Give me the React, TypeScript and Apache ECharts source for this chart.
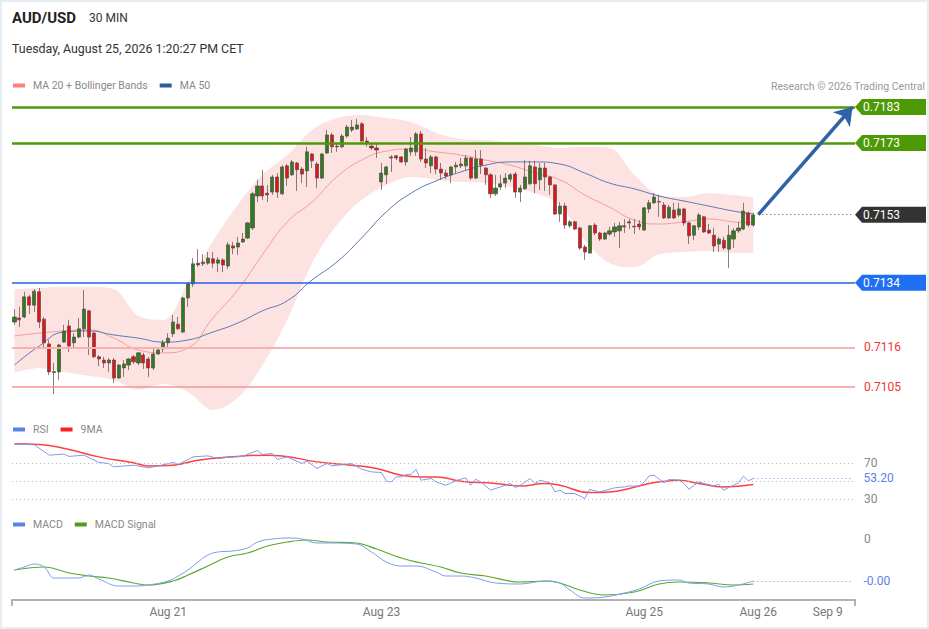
import React, { useEffect, useRef } from "react";
import * as echarts from "echarts";

// ---------- data ----------
const SLOTS = 170; // category slots on the time axis (candles + future space)

// [open, close, low, high]
const candles: number[][] = [
  [0.71231, 0.71245, 0.71223, 0.71267], [0.71242, 0.71237, 0.71217, 0.71273], [0.71245, 0.71301, 0.71242, 0.71315],
  [0.71301, 0.71278, 0.71253, 0.71306], [0.71278, 0.71317, 0.71259, 0.71323], [0.71315, 0.71231, 0.71214, 0.71326],
  [0.71239, 0.71173, 0.71159, 0.71245], [0.7117, 0.71092, 0.71083, 0.71181], [0.7109, 0.71093, 0.7103, 0.71117],
  [0.71092, 0.71167, 0.71069, 0.7117], [0.71175, 0.71206, 0.71173, 0.71223], [0.7122, 0.71164, 0.71147, 0.71237],
  [0.71173, 0.71189, 0.71161, 0.712], [0.71189, 0.71212, 0.71186, 0.71242], [0.71212, 0.71267, 0.71189, 0.7132],
  [0.71262, 0.71189, 0.71139, 0.71264], [0.712, 0.71134, 0.71131, 0.71203], [0.71134, 0.71128, 0.71108, 0.71139],
  [0.71125, 0.71117, 0.71103, 0.71134], [0.71117, 0.71125, 0.71092, 0.71131], [0.71125, 0.71075, 0.71061, 0.71131],
  [0.71075, 0.71111, 0.71072, 0.71114], [0.71103, 0.71114, 0.71078, 0.71125], [0.71111, 0.71128, 0.71097, 0.71131],
  [0.71134, 0.7112, 0.71114, 0.71139], [0.71117, 0.71145, 0.71111, 0.71147], [0.71139, 0.71117, 0.711, 0.71145],
  [0.71128, 0.71103, 0.71078, 0.71134], [0.71103, 0.71142, 0.71097, 0.71159], [0.71142, 0.71153, 0.71139, 0.71161],
  [0.71156, 0.71173, 0.71147, 0.71181], [0.71173, 0.71186, 0.71159, 0.712], [0.71198, 0.71231, 0.71189, 0.71251],
  [0.71225, 0.71212, 0.71209, 0.71245], [0.71203, 0.71298, 0.712, 0.71301], [0.71298, 0.71337, 0.71273, 0.71342],
  [0.71337, 0.71393, 0.71329, 0.71409], [0.71395, 0.7139, 0.71384, 0.71434], [0.71393, 0.71398, 0.71387, 0.7142],
  [0.71395, 0.71409, 0.7139, 0.71426], [0.71407, 0.71395, 0.71381, 0.71426], [0.71395, 0.71404, 0.7137, 0.71412],
  [0.71404, 0.7139, 0.7137, 0.71409], [0.71387, 0.71446, 0.71379, 0.71454], [0.71443, 0.71437, 0.7142, 0.71454],
  [0.7144, 0.71451, 0.71418, 0.71468], [0.71454, 0.71462, 0.71451, 0.71479], [0.71465, 0.71507, 0.71462, 0.7151],
  [0.71493, 0.71588, 0.71487, 0.71593], [0.71582, 0.7161, 0.71565, 0.71627], [0.7161, 0.71582, 0.71571, 0.71655],
  [0.7159, 0.71585, 0.71565, 0.71613], [0.71593, 0.71635, 0.71585, 0.71641], [0.71635, 0.71593, 0.71577, 0.71646],
  [0.71588, 0.71663, 0.71585, 0.71668], [0.71666, 0.71632, 0.7161, 0.71671], [0.71641, 0.71677, 0.71638, 0.71682],
  [0.71674, 0.71655, 0.71596, 0.71677], [0.71657, 0.71643, 0.71618, 0.71663], [0.71652, 0.71705, 0.71607, 0.71719],
  [0.71699, 0.7168, 0.7166, 0.71702], [0.71671, 0.71632, 0.71604, 0.71677], [0.71632, 0.71699, 0.71629, 0.71702],
  [0.71702, 0.71752, 0.71699, 0.71766], [0.71752, 0.71719, 0.71702, 0.71758], [0.71721, 0.71719, 0.71705, 0.7173],
  [0.71719, 0.71749, 0.71716, 0.71755], [0.71749, 0.71774, 0.71744, 0.7178], [0.71766, 0.71774, 0.7176, 0.71794],
  [0.71769, 0.7178, 0.71766, 0.71797], [0.71783, 0.71735, 0.71733, 0.71788], [0.71735, 0.7173, 0.71719, 0.71746],
  [0.71721, 0.71716, 0.7171, 0.71727], [0.71716, 0.7171, 0.71688, 0.71727], [0.71621, 0.71646, 0.71599, 0.71674],
  [0.71641, 0.71663, 0.71616, 0.71666], [0.71688, 0.71691, 0.71649, 0.71696], [0.71694, 0.71688, 0.71682, 0.71696],
  [0.71691, 0.71677, 0.71674, 0.71693], [0.71677, 0.71713, 0.71666, 0.71716], [0.71705, 0.71716, 0.71694, 0.71746],
  [0.71705, 0.71755, 0.71694, 0.7176], [0.71755, 0.71685, 0.71677, 0.71763], [0.71685, 0.71674, 0.7166, 0.71716],
  [0.71666, 0.71691, 0.71646, 0.71696], [0.71691, 0.71657, 0.71643, 0.71694], [0.71657, 0.71646, 0.71627, 0.71674],
  [0.71646, 0.71638, 0.71629, 0.71655], [0.71641, 0.71663, 0.71618, 0.71665], [0.71663, 0.71668, 0.71646, 0.71677],
  [0.71666, 0.71671, 0.7166, 0.71688], [0.71666, 0.71688, 0.71655, 0.71696], [0.71688, 0.71632, 0.71627, 0.71691],
  [0.71632, 0.71685, 0.71629, 0.7171], [0.71685, 0.71668, 0.71643, 0.7171], [0.7166, 0.71641, 0.71613, 0.71663],
  [0.71641, 0.71588, 0.71577, 0.71646], [0.71588, 0.71604, 0.71582, 0.71641], [0.71607, 0.71616, 0.71599, 0.71641],
  [0.71618, 0.71632, 0.71604, 0.71646], [0.71629, 0.71641, 0.71621, 0.71646], [0.71643, 0.71593, 0.71577, 0.71649],
  [0.71593, 0.71604, 0.71565, 0.71613], [0.71602, 0.71635, 0.71599, 0.71682], [0.71616, 0.71666, 0.71613, 0.7168],
  [0.71663, 0.71616, 0.7159, 0.7168], [0.71627, 0.7166, 0.71599, 0.71674], [0.7166, 0.71635, 0.71596, 0.71674],
  [0.71635, 0.71613, 0.71585, 0.71638], [0.71613, 0.71532, 0.71529, 0.71615], [0.71532, 0.71554, 0.7151, 0.71565],
  [0.71554, 0.71501, 0.7149, 0.71563], [0.71499, 0.7151, 0.71493, 0.71515], [0.7151, 0.7149, 0.71487, 0.71512],
  [0.71493, 0.71437, 0.71432, 0.71496], [0.7144, 0.71426, 0.71404, 0.71446], [0.71423, 0.71499, 0.71423, 0.71501],
  [0.71501, 0.71479, 0.71473, 0.71507], [0.71479, 0.71462, 0.71457, 0.71482], [0.71462, 0.71479, 0.71459, 0.71482],
  [0.71476, 0.71485, 0.71471, 0.71496], [0.71482, 0.71496, 0.71468, 0.71507], [0.71485, 0.71499, 0.71437, 0.7151],
  [0.71496, 0.71499, 0.71479, 0.71518], [0.71507, 0.7151, 0.7149, 0.71518], [0.71496, 0.71498, 0.71476, 0.71518],
  [0.71504, 0.71496, 0.71487, 0.71515], [0.71487, 0.71549, 0.71485, 0.71551], [0.71546, 0.71563, 0.71535, 0.71571],
  [0.71563, 0.71579, 0.7156, 0.7159], [0.71565, 0.71567, 0.71524, 0.71585], [0.71557, 0.71521, 0.71518, 0.71565],
  [0.71521, 0.71551, 0.71518, 0.71557], [0.71543, 0.71521, 0.71518, 0.71563], [0.71529, 0.71546, 0.71524, 0.71563],
  [0.71546, 0.71507, 0.71499, 0.71549], [0.71507, 0.71471, 0.71448, 0.7151], [0.71473, 0.71499, 0.71459, 0.71501],
  [0.71496, 0.71529, 0.71487, 0.71535], [0.71524, 0.71482, 0.71479, 0.71526], [0.71487, 0.71479, 0.71476, 0.71504],
  [0.71473, 0.71443, 0.71426, 0.71493], [0.71448, 0.71462, 0.71426, 0.71468], [0.71459, 0.71437, 0.71432, 0.71468],
  [0.71434, 0.71473, 0.71381, 0.71501], [0.71462, 0.71485, 0.71437, 0.71493], [0.71485, 0.71493, 0.71479, 0.7151],
  [0.7149, 0.7154, 0.71487, 0.71563], [0.71535, 0.71501, 0.71496, 0.71538], [0.71501, 0.71529, 0.71496, 0.71535],
];

// indicator sample slots (every 5th candle)
const bandSlots = [0, 5, 10, 15, 20, 25, 30, 35, 40, 45, 50, 55, 60, 65, 70, 75, 80, 85, 90, 95, 100, 105, 110, 115, 120, 125, 130, 135, 140, 145, 149];
const bbUpper = [0.71323, 0.71326, 0.71329, 0.71329, 0.71323, 0.71248, 0.71237, 0.71342, 0.71457, 0.71557, 0.71641, 0.71696, 0.71766, 0.71799, 0.71808, 0.71799, 0.71788, 0.71758, 0.71741, 0.71738, 0.7173, 0.71724, 0.71716, 0.71719, 0.71716, 0.71641, 0.71585, 0.71579, 0.7159, 0.71585, 0.71579];
const bbLower = [0.71089, 0.71103, 0.71092, 0.71081, 0.71069, 0.71042, 0.71058, 0.71036, 0.70986, 0.71019, 0.71111, 0.71237, 0.71395, 0.71501, 0.71571, 0.71613, 0.71635, 0.71627, 0.71621, 0.71618, 0.71607, 0.7159, 0.71557, 0.71459, 0.71395, 0.71384, 0.7142, 0.71426, 0.71429, 0.71423, 0.71423];
const ma20 = [0.71192, 0.712, 0.71206, 0.71209, 0.71186, 0.71153, 0.71145, 0.71159, 0.71242, 0.7132, 0.71418, 0.7151, 0.71565, 0.71635, 0.71682, 0.71707, 0.71713, 0.71705, 0.71696, 0.71682, 0.71668, 0.71646, 0.71627, 0.71585, 0.71551, 0.71515, 0.71504, 0.7151, 0.71518, 0.7151, 0.71507];
const ma50 = [0.71111, 0.71164, 0.71203, 0.71206, 0.71195, 0.71186, 0.71175, 0.71181, 0.71203, 0.71228, 0.71262, 0.7129, 0.71348, 0.71398, 0.71465, 0.71538, 0.7159, 0.71624, 0.71649, 0.71668, 0.71677, 0.71677, 0.71671, 0.71646, 0.71618, 0.71602, 0.71582, 0.71568, 0.71554, 0.7154, 0.71532];

// [slot, value]
const rsi: number[][] = [[0, 91.5], [4, 90.7], [7, 79.1], [10, 80.3], [11, 77.7], [14, 79.1], [17, 71.0], [19, 69.8], [20, 66.0], [24, 67.9], [27, 64.9], [29, 67.1], [32, 71.0], [33, 68.7], [35, 74.3], [36, 77.2], [39, 78.3], [41, 75.4], [44, 77.2], [46, 77.7], [49, 84.4], [50, 79.9], [52, 81.0], [53, 74.3], [55, 77.2], [56, 74.6], [58, 69.8], [59, 72.4], [61, 64.2], [63, 69.8], [64, 67.1], [68, 69.8], [70, 63.4], [72, 60.4], [74, 59.7], [75, 50.0], [76, 49.2], [77, 54.8], [78, 54.8], [79, 57.5], [80, 57.8], [81, 63.1], [82, 51.1], [84, 53.0], [85, 49.2], [87, 45.5], [89, 50.3], [90, 52.2], [91, 53.7], [92, 45.5], [93, 52.2], [94, 49.2], [96, 39.9], [98, 43.6], [100, 47.4], [101, 42.5], [102, 45.5], [104, 53.0], [105, 47.4], [106, 51.1], [108, 48.1], [109, 38.0], [110, 39.9], [111, 36.2], [113, 36.2], [115, 30.6], [116, 40.7], [118, 38.0], [121, 42.5], [123, 43.6], [124, 44.7], [126, 44.4], [127, 49.2], [128, 55.9], [129, 56.7], [131, 48.1], [132, 51.9], [134, 51.1], [135, 47.4], [136, 41.0], [138, 49.2], [139, 47.4], [141, 44.7], [142, 46.6], [143, 39.9], [145, 45.5], [146, 48.1], [147, 55.6], [148, 50.3], [149, 53.2]];
const rsiMa: number[][] = [[0, 91.8], [5, 91.1], [11, 85.5], [17, 77.2], [24, 70.5], [27, 67.1], [32, 67.9], [37, 73.5], [44, 77.2], [51, 79.1], [54, 78.3], [61, 71.6], [68, 67.9], [73, 64.2], [78, 56.7], [82, 54.8], [85, 54.8], [90, 50.0], [97, 47.4], [102, 44.7], [107, 47.4], [110, 45.5], [116, 37.3], [120, 38.0], [124, 41.8], [128, 47.4], [132, 50.3], [134, 51.1], [138, 47.4], [143, 43.6], [149, 46.3]];
const macd: number[][] = [[0, -0.00031], [2, -0.00028], [4, -0.00025], [6, -0.00028], [8, -0.00039], [11, -0.00039], [13, -0.00039], [15, -0.00036], [17, -0.0004], [21, -0.00047], [24, -0.00047], [27, -0.00046], [31, -0.00042], [33, -0.00037], [35, -0.00031], [37, -0.00023], [39, -0.00016], [41, -0.00013], [44, -0.00012], [47, -0.00009], [49, -0.00003], [52, 0], [56, 0.00001], [58, 0], [61, -0.00004], [64, -0.00004], [69, -0.00005], [72, -0.00013], [75, -0.00023], [78, -0.00027], [81, -0.00027], [85, -0.00033], [87, -0.00037], [90, -0.00037], [93, -0.00039], [97, -0.00044], [102, -0.00045], [107, -0.00042], [110, -0.00044], [112, -0.00051], [115, -0.00059], [119, -0.00058], [123, -0.00054], [126, -0.0005], [130, -0.00042], [134, -0.00041], [136, -0.00044], [140, -0.00045], [143, -0.00048], [146, -0.00046], [149, -0.00042]];
const macdSignal: number[][] = [[0, -0.00031], [6, -0.00028], [11, -0.00034], [15, -0.00037], [19, -0.00039], [24, -0.00044], [27, -0.00046], [32, -0.00042], [35, -0.00036], [39, -0.00027], [43, -0.00018], [47, -0.00014], [51, -0.00007], [55, -0.00003], [59, -0.00001], [63, -0.00003], [69, -0.00004], [73, -0.0001], [78, -0.00019], [82, -0.00024], [86, -0.00028], [90, -0.00034], [95, -0.00037], [102, -0.00043], [107, -0.00042], [110, -0.00044], [114, -0.00051], [119, -0.00056], [125, -0.00053], [130, -0.00045], [134, -0.00043], [140, -0.00044], [145, -0.00046], [149, -0.00045]];

const resistances = [0.7183, 0.7173];
const pivot = 0.7134;
const supports = [0.7116, 0.7105];
const lastPrice = 0.7153;
const targetPrice = 0.7183;
const rsiGuides = [70, 50, 30];
const rsiTickValues = [30, 70];

const tickLabels = ["Aug 21", "Aug 23", "Aug 25", "Aug 26", "Sep 9"];
const tickSlots = [31, 74, 127, 150, 164];

const FONT = "Roboto, 'Liberation Sans', Arial, sans-serif";

export default function App() {
  const ref = useRef<HTMLDivElement>(null);

  useEffect(() => {
    const el = ref.current;
    if (!el) return;
    const chart = echarts.init(el, undefined, { renderer: "svg" });

    const cats = Array.from({ length: SLOTS }, (_, i) => String(i));
    const labelMap: Record<number, string> = {};
    tickSlots.forEach((s, k) => (labelMap[s] = tickLabels[k]));
    const pair = (slots: number[], vals: number[]) => slots.map((s, k) => [s, vals[k]]);
    const bandWidth = bbUpper.map((u, k) => +(u - bbLower[k]).toFixed(6));
    const lastSlot = SLOTS - 1;
    const nextSlot = candles.length;
    const lastRsi = rsi[rsi.length - 1];
    const lastMacd = macd[macd.length - 1];

    const gridPos = { left: 12, right: 74 };
    const hiddenX = (gi: number) => ({
      type: "category", gridIndex: gi, data: cats, boundaryGap: true, show: false,
    });

    const tagSymbol = "path://M0,8 L7,0 L71,0 L71,16 L7,16 Z";
    const tag = (price: number, color: string) => ({
      name: price.toFixed(4),
      coord: [lastSlot, price],
      itemStyle: { color },
    });
    const legendText = { color: "#888", fontSize: 10.5, fontFamily: FONT, padding: [0, 0, 0, 3] };

    const option: any = {
      animation: false,
      backgroundColor: "#ffffff",
      textStyle: { fontFamily: FONT },
      grid: [
        { ...gridPos, top: 95, height: 320 },
        { ...gridPos, top: 436.5, height: 80.4 },
        { ...gridPos, top: 530, height: 70 },
      ],
      xAxis: [
        hiddenX(0),
        hiddenX(1),
        {
          type: "category", gridIndex: 2, data: cats, boundaryGap: true,
          axisLine: { show: true, onZero: false, lineStyle: { color: "#b3b3b3", width: 2 } },
          axisTick: { show: true, interval: (i: number) => i === 0, length: 6, lineStyle: { color: "#b3b3b3", width: 2 } },
          axisLabel: {
            interval: (i: number) => labelMap[i] !== undefined,
            formatter: (_v: string, i: number) => labelMap[i] ?? "",
            color: "#777", fontSize: 12, margin: 6, fontFamily: FONT,
          },
          splitLine: { show: false },
        },
      ],
      yAxis: [
        { type: "value", gridIndex: 0, min: 0.709719, max: 0.718634, show: false, splitLine: { show: false } },
        {
          type: "value", gridIndex: 1, min: 10, max: 100, position: "right",
          axisLine: { show: false }, axisTick: { show: false }, splitLine: { show: false },
          axisLabel: { customValues: rsiTickValues, color: "#888", fontSize: 12, margin: 9, fontFamily: FONT },
        },
        {
          type: "value", gridIndex: 2, min: -0.00061, max: 0.00009, position: "right",
          axisLine: { show: false }, axisTick: { show: false }, splitLine: { show: false },
          axisLabel: { customValues: [0], formatter: (v: number) => String(v), color: "#888", fontSize: 12, margin: 9, fontFamily: FONT },
        },
      ],
      legend: [
        {
          left: 13, top: 80, padding: 0, icon: "rect", itemWidth: 12, itemHeight: 4, itemGap: 12, selectedMode: false,
          textStyle: legendText,
          data: [
            { name: "MA 20 + Bollinger Bands", itemStyle: { color: "#ff7f7f" } },
            { name: "MA 50", itemStyle: { color: "#2f5b9a" } },
          ],
        },
        {
          left: 13, top: 424, padding: 0, icon: "rect", itemWidth: 12, itemHeight: 4, itemGap: 12, selectedMode: false,
          textStyle: legendText,
          data: [
            { name: "RSI", itemStyle: { color: "#5b82e6" } },
            { name: "9MA", itemStyle: { color: "#ff1f1f" } },
          ],
        },
        {
          left: 13, top: 519, padding: 0, icon: "rect", itemWidth: 12, itemHeight: 4, itemGap: 12, selectedMode: false,
          textStyle: legendText,
          data: [
            { name: "MACD", itemStyle: { color: "#5b82e6" } },
            { name: "MACD Signal", itemStyle: { color: "#4aa012" } },
          ],
        },
      ],
      graphic: [
        { type: "rect", silent: true, shape: { x: 0, y: 0, width: 929, height: 629 }, style: { fill: "none", stroke: "#e6edf0", lineWidth: 4 } },
        { type: "text", silent: true, style: { x: 12, y: 18, text: "AUD/USD", font: `bold 15px ${FONT}`, fill: "#222", verticalAlign: "middle" } },
        { type: "text", silent: true, style: { x: 89, y: 18, text: "30 MIN", font: `12px ${FONT}`, fill: "#333", verticalAlign: "middle" } },
        { type: "text", silent: true, style: { x: 12, y: 48, text: "Tuesday, August 25, 2026 1:20:27 PM CET", font: `12.4px ${FONT}`, fill: "#333", verticalAlign: "middle" } },
        { type: "text", silent: true, style: { x: 925, y: 86, text: "Research © 2026 Trading Central", font: `10.5px ${FONT}`, fill: "#9a9a9a", align: "right", verticalAlign: "middle" } },
      ],
      series: [
        {
          name: "bbLower", type: "line", xAxisIndex: 0, yAxisIndex: 0, data: pair(bandSlots, bbLower),
          stack: "bb", symbol: "none", smooth: 0.35, lineStyle: { opacity: 0 }, silent: true, z: 1,
        },
        {
          name: "bbBand", type: "line", xAxisIndex: 0, yAxisIndex: 0, data: pair(bandSlots, bandWidth),
          stack: "bb", symbol: "none", smooth: 0.35, lineStyle: { opacity: 0 },
          areaStyle: { color: "#fde2e2", opacity: 1 }, silent: true, z: 1,
        },
        {
          name: "MA 20 + Bollinger Bands", type: "line", xAxisIndex: 0, yAxisIndex: 0, data: pair(bandSlots, ma20),
          symbol: "none", smooth: true, lineStyle: { color: "#f59c9c", width: 1 }, itemStyle: { color: "#ff7f7f" }, z: 2,
        },
        {
          name: "MA 50", type: "line", xAxisIndex: 0, yAxisIndex: 0, data: pair(bandSlots, ma50),
          symbol: "none", smooth: true, lineStyle: { color: "#5a79b0", width: 1 }, itemStyle: { color: "#2f5b9a" }, z: 2,
        },
        {
          name: "AUD/USD", type: "candlestick", xAxisIndex: 0, yAxisIndex: 0, data: candles, barWidth: 3.6, z: 3,
          itemStyle: { color: "#2a801f", color0: "#e3141b", borderColor: "#5b4848", borderColor0: "#5b4848", borderWidth: 0.7 },
          markPoint: {
            silent: true, symbol: tagSymbol, symbolSize: [71, 16], symbolOffset: [38, 0], symbolKeepAspect: false,
            label: { show: true, position: "inside", offset: [-9, 0], color: "#fff", fontSize: 12, fontFamily: FONT, formatter: (p: any) => p.name },
            data: [
              tag(resistances[0], "#4e9a06"),
              tag(resistances[1], "#4e9a06"),
              tag(lastPrice, "#333333"),
              tag(pivot, "#1f6ff2"),
            ],
          },
        },
        {
          name: "levels", type: "line", xAxisIndex: 0, yAxisIndex: 0, data: [], z: 4, silent: true,
          markLine: {
            silent: true, symbol: ["none", "none"], animation: false, precision: 6,
            label: { show: false },
            data: [
              ...resistances.map((p) => ({ yAxis: p, lineStyle: { color: "#4c9a08", width: 2.5, type: "solid" } })),
              { yAxis: pivot, lineStyle: { color: "#1f62e8", width: 1.5, type: "solid" } },
              ...supports.map((p, k) => ({
                yAxis: p,
                lineStyle: { color: k === 0 ? "#fbb0b0" : "#f49494", width: k === 0 ? 2 : 1.5, type: "solid" },
                label: { show: true, position: "end", distance: 9, formatter: p.toFixed(4), color: "#f03535", fontSize: 12, fontFamily: FONT },
              })),
              [
                { coord: [nextSlot, lastPrice], lineStyle: { color: "#555", width: 1, type: [1, 3] } },
                { coord: [lastSlot, lastPrice] },
              ],
              [
                { coord: [nextSlot, lastPrice], symbol: "none", lineStyle: { color: "#2f62a6", width: 3.5, type: "solid" } },
                { coord: [lastSlot, targetPrice], symbol: "arrow", symbolSize: 17 },
              ],
            ],
          },
        },
        {
          name: "RSI", type: "line", xAxisIndex: 1, yAxisIndex: 1, data: rsi, symbol: "none",
          lineStyle: { color: "#7e9cec", width: 1 }, itemStyle: { color: "#5b82e6" }, z: 3,
          markLine: {
            silent: true, symbol: ["none", "none"], label: { show: false }, precision: 4,
            data: [
              ...rsiGuides.map((v) => ({ yAxis: v, lineStyle: { color: "#b8b8b8", width: 1, type: [1, 3] } })),
              [
                {
                  coord: [lastRsi[0], lastRsi[1]], lineStyle: { color: "#6d8de6", width: 1, type: [1, 3] },
                  label: { show: true, position: "end", distance: 11, formatter: lastRsi[1].toFixed(2), color: "#5b82e6", fontSize: 12, fontFamily: FONT },
                },
                { coord: [lastSlot, lastRsi[1]] },
              ],
            ],
          },
        },
        {
          name: "9MA", type: "line", xAxisIndex: 1, yAxisIndex: 1, data: rsiMa, symbol: "none", smooth: true,
          lineStyle: { color: "#ff4040", width: 1.5 }, itemStyle: { color: "#ff1f1f" }, z: 2,
        },
        {
          name: "MACD", type: "line", xAxisIndex: 2, yAxisIndex: 2, data: macd, symbol: "none", smooth: 0.4,
          lineStyle: { color: "#7e9cec", width: 1 }, itemStyle: { color: "#5b82e6" }, z: 3,
          markLine: {
            silent: true, symbol: ["none", "none"], label: { show: false }, precision: 8,
            data: [
              [
                {
                  coord: [lastMacd[0], lastMacd[1]], lineStyle: { color: "#6d8de6", width: 1, type: [1, 3] },
                  label: { show: true, position: "end", distance: 11, formatter: lastMacd[1].toFixed(2), color: "#5b82e6", fontSize: 12, fontFamily: FONT },
                },
                { coord: [lastSlot, lastMacd[1]] },
              ],
            ],
          },
        },
        {
          name: "MACD Signal", type: "line", xAxisIndex: 2, yAxisIndex: 2, data: macdSignal, symbol: "none", smooth: 0.4,
          lineStyle: { color: "#5aa82e", width: 1.2 }, itemStyle: { color: "#4aa012" }, z: 2,
        },
      ],
    };

    chart.setOption(option);
    return () => chart.dispose();
  }, []);

  return (
    <div
      ref={ref}
      style={{ position: "fixed", left: 0, top: 0, width: 929, height: 629, background: "#fff" }}
    />
  );
}
